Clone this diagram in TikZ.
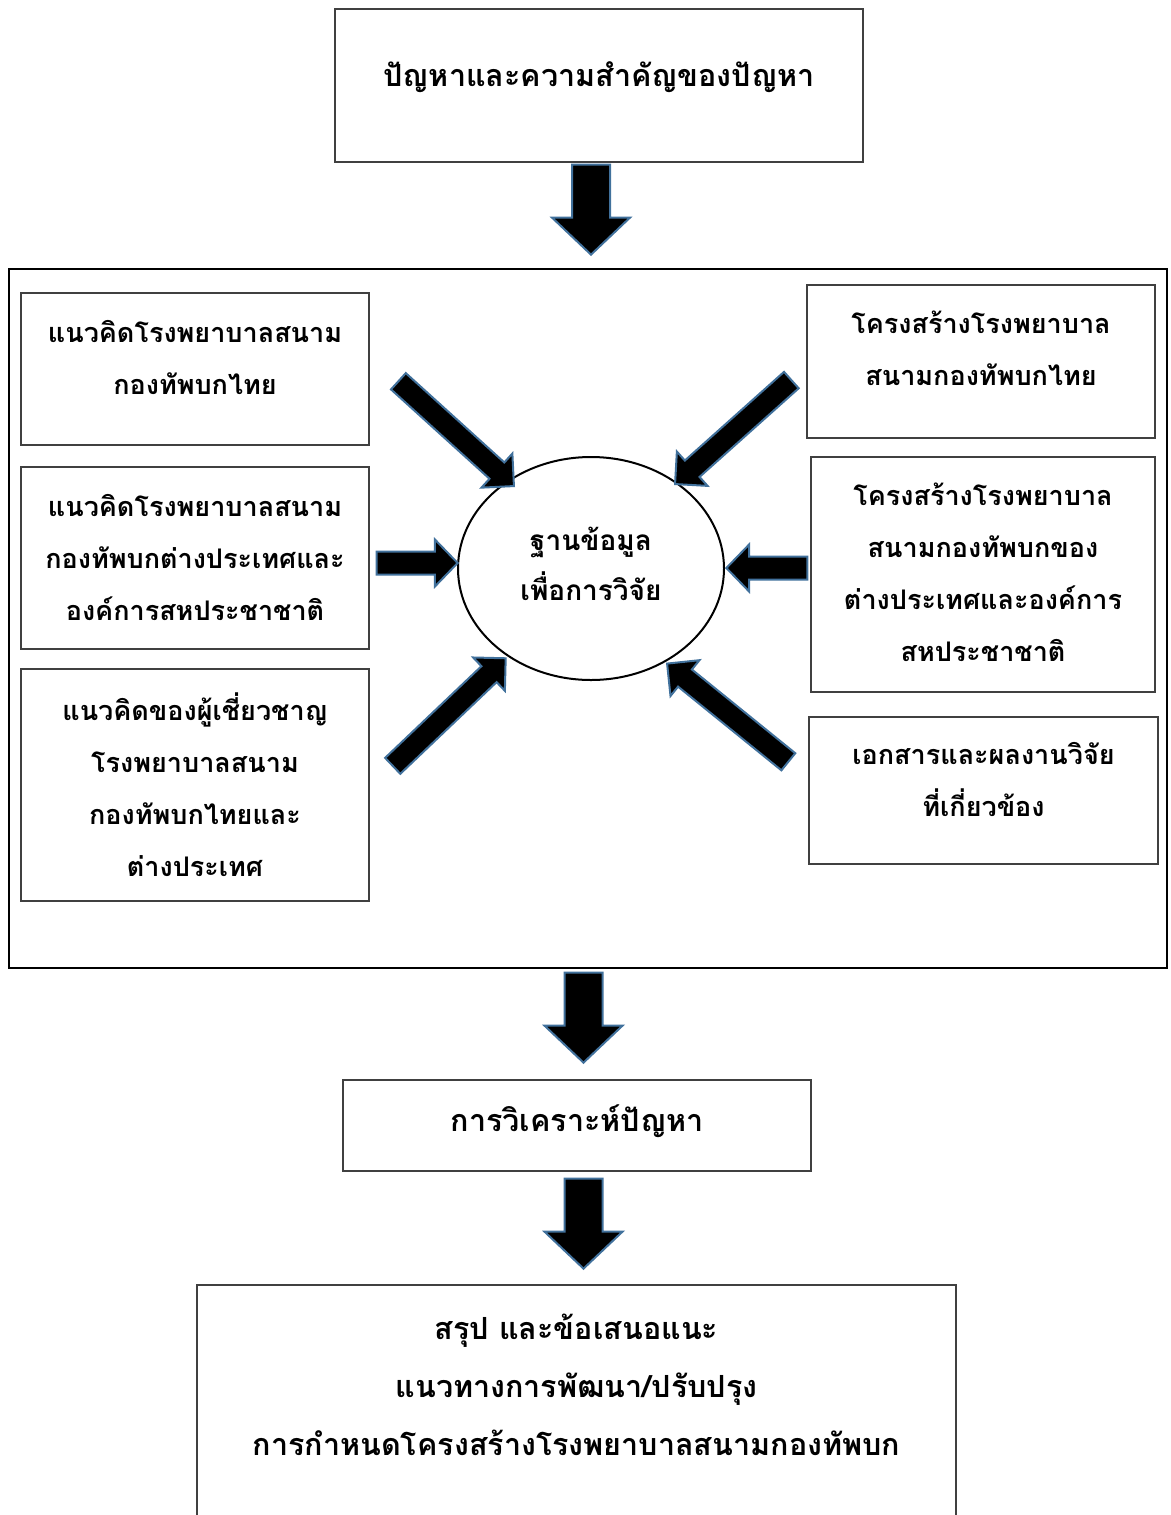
\documentclass[tikz,border=0pt]{standalone}
\usepackage{fontspec}
\newfontfamily\thaifont[Script=Thai]{Loma}
\usetikzlibrary{shapes.geometric,shapes.arrows}
\definecolor{arrowblue}{HTML}{41719C}
\definecolor{boxgray}{HTML}{404040}
\tikzset{
  box/.style={draw=boxgray, line width=1.4pt, inner sep=0pt},
  txt/.style={align=center, inner sep=0pt, font=\thaifont\bfseries\fontsize{27}{52}\selectfont},
  bigtxt/.style={align=center, inner sep=0pt, font=\thaifont\bfseries\fontsize{30.5}{58}\selectfont},
  fatarrow/.style={single arrow, draw=arrowblue, fill=black, line width=2pt, inner xsep=0pt, anchor=tip},
  bigv/.style={fatarrow, minimum height=90pt, inner ysep=18pt, single arrow head extend=20pt, single arrow tip angle=93},
  smallh/.style={fatarrow, minimum height=81pt, inner ysep=10.5pt, single arrow head extend=12pt, single arrow tip angle=92},
  diag/.style={fatarrow, minimum height=156pt, inner ysep=10pt, single arrow head extend=12pt, single arrow tip angle=90},
}
\begin{document}
\begin{tikzpicture}[x=1pt,y=-1pt]
\useasboundingbox[fill=white] (0,0) rectangle (1170,1515);
% top box
\node[box, minimum width=528pt, minimum height=153pt] (top) at (599,85.5) {};
\node[bigtxt] (toptxt) at (599,77) {ปัญหาและความสำคัญของปัญหา};
% arrow 1
\node[bigv, rotate=-90] (a1) at (591,256) {};
% big box
\node[draw=black, line width=1.2pt, minimum width=1158pt, minimum height=699pt, inner sep=0pt] (big) at (588,618.5) {};
% left boxes
\node[box, minimum width=348pt, minimum height=152pt] (l1) at (195,369) {};
\node[txt] (l1t) at (195,357) {แนวคิดโรงพยาบาลสนาม\\กองทัพบกไทย};
\node[box, minimum width=348pt, minimum height=182pt] (l2) at (195,558) {};
\node[txt] (l2t) at (195,557) {แนวคิดโรงพยาบาลสนาม\\กองทัพบกต่างประเทศและ\\องค์การสหประชาชาติ};
\node[box, minimum width=348pt, minimum height=232pt] (l3) at (195,785) {};
\node[txt] (l3t) at (195,784.5) {แนวคิดของผู้เชี่ยวชาญ\\โรงพยาบาลสนาม\\กองทัพบกไทยและ\\ต่างประเทศ};
% right boxes
\node[box, minimum width=348pt, minimum height=153pt] (r1) at (981,361.5) {};
\node[txt] (r1t) at (981,348) {โครงสร้างโรงพยาบาล\\สนามกองทัพบกไทย};
\node[box, minimum width=344pt, minimum height=235pt] (r2) at (983,574.5) {};
\node[txt] (r2t) at (983,572) {โครงสร้างโรงพยาบาล\\สนามกองทัพบกของ\\ต่างประเทศและองค์การ\\สหประชาชาติ};
\node[box, minimum width=349pt, minimum height=147pt] (r3) at (983.5,790.5) {};
\node[txt] (r3t) at (983.5,779.5) {เอกสารและผลงานวิจัย\\ที่เกี่ยวข้อง};
% ellipse
\node[ellipse, draw=black, line width=2pt, minimum width=266pt, minimum height=223pt, inner sep=0pt] (db) at (591,568.5) {};
\node[txt, font=\thaifont\bfseries\fontsize{28}{50}\selectfont] (dbt) at (591,564) {ฐานข้อมูล\\เพื่อการวิจัย};
% arrows into ellipse (placed by their tips)
\node[smallh] (am1) at (459,563) {};
\node[smallh, rotate=180] (am2) at (725,568) {};
\node[diag, rotate=-42.2] (ad1) at (515,487) {};
\node[diag, rotate=-138.2] (ad2) at (674,485) {};
\node[diag, rotate=43.6] (ad3) at (506.7,657.3) {};
\node[diag, rotate=141] (ad4) at (666,662.7) {};
% arrow 2
\node[bigv, rotate=-90] (a2) at (583.5,1064) {};
% analysis box
\node[box, minimum width=468pt, minimum height=91pt] (ana) at (577,1125.5) {};
\node[bigtxt] (anat) at (577,1121) {การวิเคราะห์ปัญหา};
% arrow 3
\node[bigv, rotate=-90] (a3) at (583.5,1270) {};
% bottom box (open at bottom edge of page)
\node[box, minimum width=759pt, minimum height=250pt] (bot) at (576.5,1410) {};
\node[bigtxt] (bott) at (576.5,1385) {สรุป และข้อเสนอแนะ\\แนวทางการพัฒนา/ปรับปรุง\\การกำหนดโครงสร้างโรงพยาบาลสนามกองทัพบก};
\end{tikzpicture}
\end{document}
